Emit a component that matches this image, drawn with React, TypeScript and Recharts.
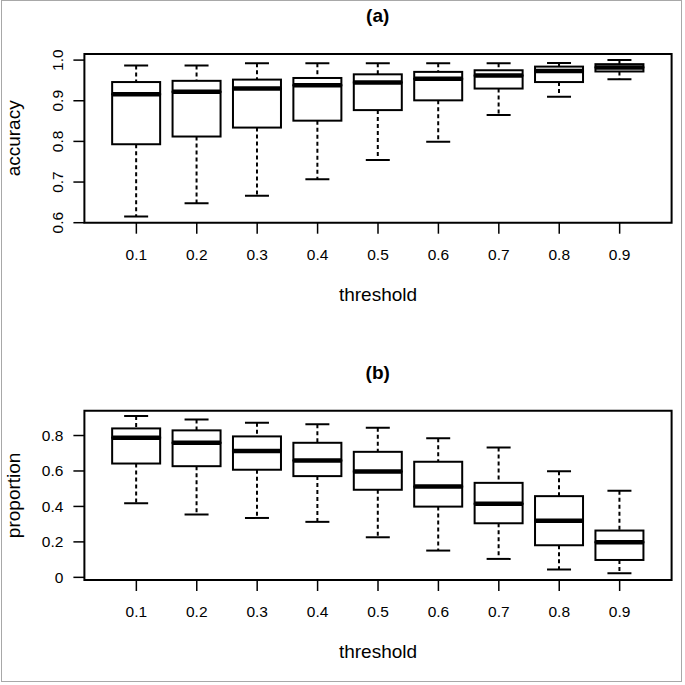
import { ComposedChart, Bar, XAxis, YAxis, ReferenceArea } from 'recharts'

const thresholds = [0.1, 0.2, 0.3, 0.4, 0.5, 0.6, 0.7, 0.8, 0.9]

// (a) accuracy by threshold
const accMin = [0.615, 0.648, 0.666, 0.707, 0.754, 0.799, 0.865, 0.910, 0.953]
const accQ1 = [0.793, 0.812, 0.834, 0.851, 0.877, 0.901, 0.930, 0.946, 0.972]
const accMed = [0.916, 0.922, 0.930, 0.938, 0.945, 0.954, 0.962, 0.973, 0.982]
const accQ3 = [0.946, 0.949, 0.952, 0.956, 0.965, 0.971, 0.975, 0.984, 0.990]
const accMax = [0.987, 0.987, 0.992, 0.992, 0.992, 0.992, 0.992, 0.993, 1.0]
const accTicks = [0.6, 0.7, 0.8, 0.9, 1.0]

// (b) proportion by threshold
const propMin = [0.418, 0.354, 0.335, 0.313, 0.226, 0.151, 0.104, 0.044, 0.023]
const propQ1 = [0.642, 0.627, 0.607, 0.571, 0.494, 0.399, 0.305, 0.181, 0.098]
const propMed = [0.788, 0.759, 0.712, 0.659, 0.597, 0.512, 0.415, 0.319, 0.198]
const propQ3 = [0.840, 0.829, 0.795, 0.759, 0.708, 0.652, 0.533, 0.458, 0.264]
const propMax = [0.910, 0.891, 0.872, 0.863, 0.844, 0.785, 0.733, 0.599, 0.488]
const propTicks = [0, 0.2, 0.4, 0.6, 0.8]

const xDomain = [0.014, 0.986]
const FONT = '"Liberation Sans", Arial, Helvetica, sans-serif'
const CAP = 24
const LW = 2

function toRows(min: number[], q1: number[], med: number[], q3: number[], max: number[]) {
  return thresholds.map((t, i) => ({
    t,
    base: min[i],
    lowWhisker: q1[i] - min[i],
    lowBox: med[i] - q1[i],
    highBox: q3[i] - med[i],
    highWhisker: max[i] - q3[i],
  }))
}

const Empty = () => <g />

function LowWhisker({ x, y, width, height }: any) {
  const cx = x + width / 2
  const yb = y + height
  return (
    <g>
      <line x1={cx} x2={cx} y1={y} y2={yb} stroke="#000" strokeWidth={LW} strokeDasharray="4 3" />
      <line x1={cx - CAP / 2} x2={cx + CAP / 2} y1={yb} y2={yb} stroke="#000" strokeWidth={LW} />
    </g>
  )
}

function HighWhisker({ x, y, width, height }: any) {
  const cx = x + width / 2
  return (
    <g>
      <line x1={cx} x2={cx} y1={y} y2={y + height} stroke="#000" strokeWidth={LW} strokeDasharray="4 3" />
      <line x1={cx - CAP / 2} x2={cx + CAP / 2} y1={y} y2={y} stroke="#000" strokeWidth={LW} />
    </g>
  )
}

function LowBox({ x, y, width, height }: any) {
  return <rect x={x} y={y} width={width} height={height} fill="#fff" stroke="#000" strokeWidth={LW} />
}

function HighBox({ x, y, width, height }: any) {
  return (
    <g>
      <rect x={x} y={y} width={width} height={height} fill="#fff" stroke="#000" strokeWidth={LW} />
      <line x1={x} x2={x + width} y1={y + height} y2={y + height} stroke="#000" strokeWidth={4.5} />
    </g>
  )
}

function RotatedTick({ x, y, payload }: any) {
  return (
    <text x={x} y={y} transform={`rotate(-90 ${x} ${y})`} textAnchor="middle"
      fill="#000" fontSize={15.5} fontFamily={FONT}>
      {payload.value.toFixed(1)}
    </text>
  )
}

function yTitle(text: string) {
  return ({ viewBox }: any) => {
    const bx = (viewBox?.x ?? 0) + 20.5
    const by = (viewBox?.y ?? 0) + (viewBox?.height ?? 0) / 2
    return (
      <text x={bx} y={by} transform={`rotate(-90 ${bx} ${by})`} textAnchor="middle"
        fill="#000" fontSize={19} fontFamily={FONT}>{text}</text>
    )
  }
}

function xTitle({ viewBox }: any) {
  const cx = (viewBox?.x ?? 0) + (viewBox?.width ?? 0) / 2
  const by = (viewBox?.y ?? 0) + 78.3
  return <text x={cx} y={by} textAnchor="middle" fill="#000" fontSize={19} fontFamily={FONT}>threshold</text>
}

interface PanelProps {
  rows: ReturnType<typeof toRows>
  yDomain: number[]
  yTicks: number[]
  rotated: boolean
  label: string
  title: string
  height: number
  top: number
  bottom: number
}

function BoxPanel({ rows, yDomain, yTicks, rotated, label, title, height, top, bottom }: PanelProps) {
  return (
    <div style={{ position: 'relative', width: 685, height }}>
      <ComposedChart width={685} height={height} data={rows} barSize={48}
        margin={{ top, right: 13.4, bottom, left: 0 }}>
        <XAxis type="number" dataKey="t" domain={xDomain} ticks={thresholds} allowDataOverflow
          height={60} tickSize={11} tickMargin={15} axisLine={false}
          tickLine={{ stroke: '#000', strokeWidth: 1.5 }}
          tick={{ fill: '#000', fontSize: 15.5, fontFamily: FONT }}
          label={{ content: xTitle }} />
        <YAxis type="number" domain={yDomain} ticks={yTicks} allowDataOverflow
          width={84.4} tickSize={11} tickMargin={10} axisLine={false}
          tickLine={{ stroke: '#000', strokeWidth: 1.5 }}
          tick={rotated ? RotatedTick : { fill: '#000', fontSize: 15.5, fontFamily: FONT }}
          tickFormatter={(v: number) => (v === 0 ? '0' : String(v))}
          label={{ content: yTitle(label) }} />
        <Bar dataKey="base" stackId="s" shape={Empty} isAnimationActive={false} />
        <Bar dataKey="lowWhisker" stackId="s" shape={LowWhisker} isAnimationActive={false} />
        <Bar dataKey="lowBox" stackId="s" shape={LowBox} isAnimationActive={false} />
        <Bar dataKey="highBox" stackId="s" shape={HighBox} isAnimationActive={false} />
        <Bar dataKey="highWhisker" stackId="s" shape={HighWhisker} isAnimationActive={false} />
        <ReferenceArea x1={xDomain[0]} x2={xDomain[1]} y1={yDomain[0]} y2={yDomain[1]}
          fill="none" fillOpacity={0} stroke="#000" strokeWidth={2} />
      </ComposedChart>
      <svg width={685} height={40} style={{ position: 'absolute', left: 0, top: top - 54 }}>
        <text x={377.7} y={21.5} textAnchor="middle" fontWeight="bold" fontSize={19} fontFamily={FONT} fill="#000">
          {title}
        </text>
      </svg>
    </div>
  )
}

export default function App() {
  const accRows = toRows(accMin, accQ1, accMed, accQ3, accMax)
  const propRows = toRows(propMin, propQ1, propMed, propQ3, propMax)
  return (
    <div style={{ position: 'absolute', left: 0, top: 0, width: 685, height: 685, background: '#fff', overflow: 'hidden' }}>
      <BoxPanel rows={accRows} yDomain={[0.6, 1.015]} yTicks={accTicks} rotated label="accuracy"
        title="(a)" height={340} top={54} bottom={57.3} />
      <BoxPanel rows={propRows} yDomain={[-0.015, 0.94]} yTicks={propTicks} rotated={false} label="proportion"
        title="(b)" height={345} top={70.7} bottom={45} />
      <div style={{ position: 'absolute', left: 1, top: 0, width: 681, height: 682, border: '1px solid #a8a8a8', boxSizing: 'border-box', pointerEvents: 'none' }} />
    </div>
  )
}
